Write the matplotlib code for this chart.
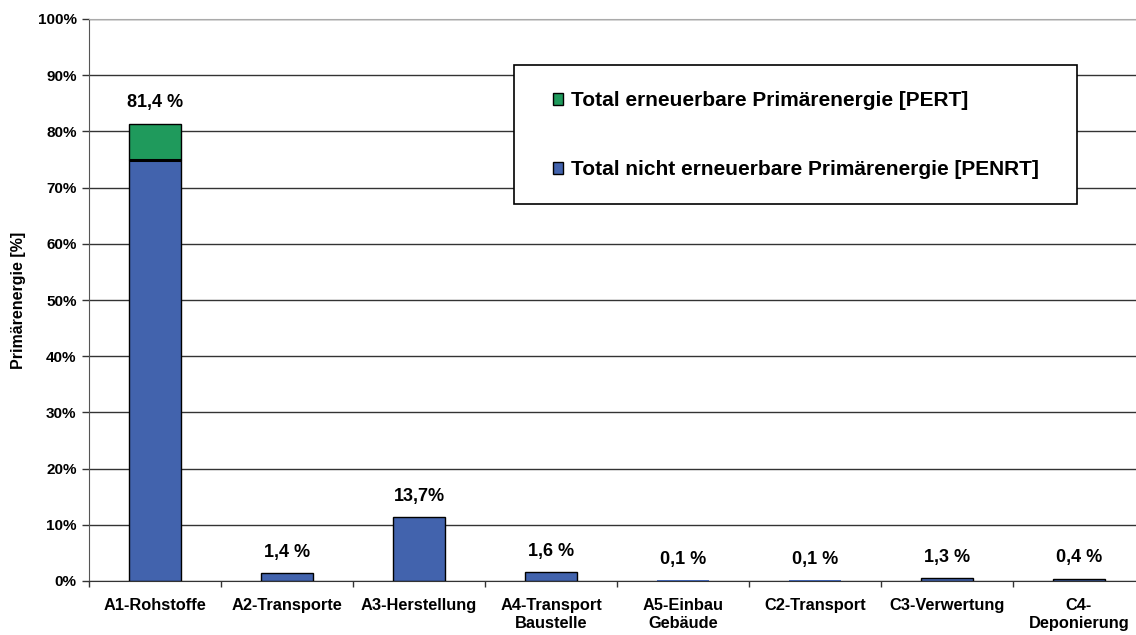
import numpy as np
import matplotlib
matplotlib.use("Agg")
import matplotlib.pyplot as plt
from matplotlib.patches import Patch, Rectangle

plt.rcParams['font.family'] = ['Liberation Sans', 'DejaVu Sans']
plt.rcParams['font.weight'] = 'bold'

# Werte (Anteil an der Primärenergie in %)
categories = ['A1-Rohstoffe', 'A2-Transporte', 'A3-Herstellung', 'A4-Transport\nBaustelle',
              'A5-Einbau\nGebäude', 'C2-Transport', 'C3-Verwertung', 'C4-\nDeponierung']
penrt = [75.0, 1.4, 11.3, 1.6, 0.1, 0.1, 0.5, 0.4]
pert = [6.4, 0.0, 0.0, 0.0, 0.0, 0.0, 0.0, 0.0]
value_labels = ['81,4 %', '1,4 %', '13,7%', '1,6 %', '0,1 %', '0,1 %', '1,3 %', '0,4 %']
yticks = [0, 10, 20, 30, 40, 50, 60, 70, 80, 90, 100]

blue = '#4263ad'
green = '#1f9a5c'

W, H = 1136, 635
fig = plt.figure(figsize=(W / 100, H / 100), dpi=100)
ax = fig.add_axes([89/W, 54/H, 1056/W, 562/H])

x = np.arange(len(categories))
penrt = np.array(penrt)
pert = np.array(pert)
lw_blue = [1.0 if v >= 0.3 else 0 for v in penrt]
ax.bar(x, penrt, width=0.4, color=blue, edgecolor='black', linewidth=lw_blue, zorder=3)
mask = pert > 0
ax.bar(x[mask], pert[mask], bottom=penrt[mask], width=0.4, color=green,
       edgecolor='black', linewidth=1.0, zorder=3)
# dicke Trennlinie zwischen den Anteilen
ax.hlines(penrt[mask], x[mask] - 0.2, x[mask] + 0.2, color='black', linewidth=2.2, zorder=4)

totals = penrt + pert
for xi, t, lab in zip(x, totals, value_labels):
    ax.annotate(lab, (xi, t), xytext=(0, 9), textcoords='offset points',
                ha='center', va='bottom', fontsize=13, fontweight='bold')

ax.set_xlim(-0.5, len(categories) - 0.5)
ax.set_ylim(0, 100)
ax.set_yticks(yticks)
ax.set_yticklabels([f'{v}%' for v in yticks], fontsize=11, fontweight='bold')
ax.yaxis.grid(True, color='#333333', linewidth=1.0, zorder=0)
ax.set_axisbelow(True)

ax.set_xticks(x)
ax.set_xticklabels(categories, fontsize=11.8, fontweight='bold', linespacing=1.3)
ax.set_xticks(np.arange(-0.5, len(categories)), minor=True)
ax.tick_params(axis='x', which='major', length=0, pad=12)
ax.tick_params(axis='x', which='minor', length=4, width=1, color='#333333', direction='out')
ax.tick_params(axis='y', length=5, width=1, color='#333333', pad=4)

ax.set_ylabel('Primärenergie [%]', fontsize=11.5, fontweight='bold', labelpad=8)

ax.spines['top'].set_color('#aaaaaa')
ax.spines['right'].set_visible(False)
ax.spines['left'].set_color('#555555')
ax.spines['bottom'].set_color('#333333')

# Legendenrahmen
box = (514, 65, 1077, 204)
frame = Rectangle((box[0] / W, 1 - box[3] / H), (box[2] - box[0]) / W, (box[3] - box[1]) / H,
                  transform=fig.transFigure, facecolor='white', edgecolor='black',
                  linewidth=1.2, zorder=5)
fig.add_artist(frame)

handles = [Patch(facecolor=green, edgecolor='black', linewidth=1),
           Patch(facecolor=blue, edgecolor='black', linewidth=1)]
leg = fig.legend(handles, ['Total erneuerbare Primärenergie [PERT]',
                           'Total nicht erneuerbare Primärenergie [PENRT]'],
                 loc='center left', bbox_to_anchor=(553 / W, 1 - 135 / H),
                 prop={'weight': 'bold', 'size': 15},
                 frameon=False, handlelength=0.5, handleheight=0.5, handletextpad=0.35,
                 labelspacing=2.4, borderpad=0, borderaxespad=0)
leg.set_zorder(6)

fig.savefig('out.png', dpi=100)
